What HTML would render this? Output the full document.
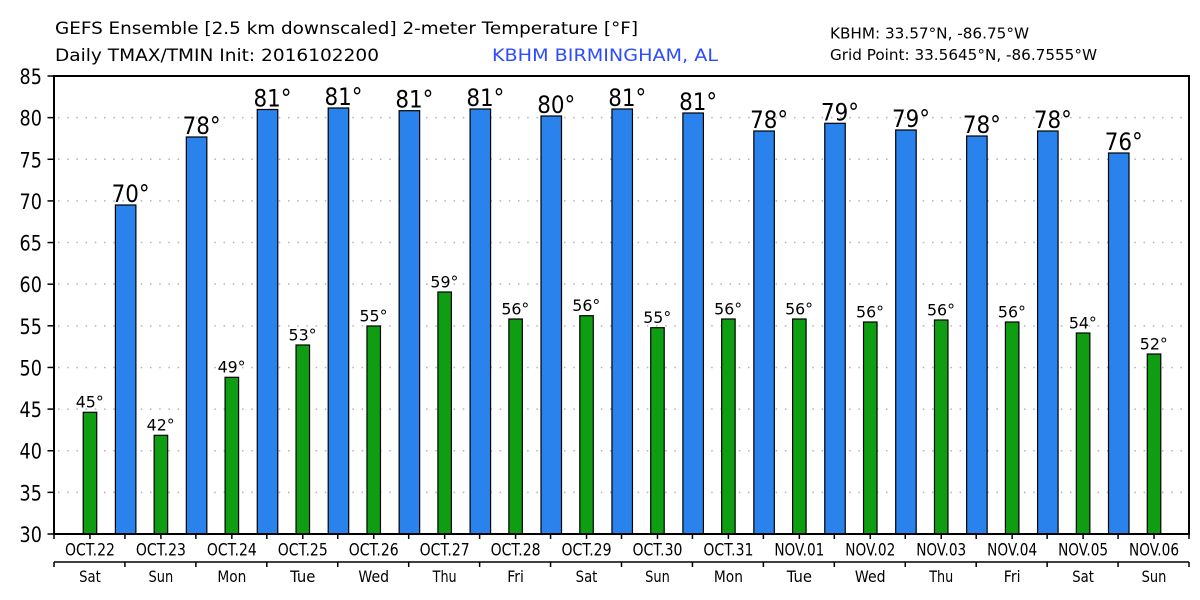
<!DOCTYPE html>
<html>
<head>
<meta charset="utf-8">
<style>
html,body{margin:0;padding:0;background:#fff;}
svg{display:block;}
text{font-family:"DejaVu Sans","Liberation Sans",sans-serif;fill:#000;}
</style>
</head>
<body>
<svg width="1200" height="600" viewBox="0 0 1200 600" xmlns="http://www.w3.org/2000/svg">
<rect width="1200" height="600" fill="#fff"/>

<!-- Header -->
<text x="55" y="34" font-size="17" textLength="583" lengthAdjust="spacingAndGlyphs">GEFS Ensemble [2.5 km downscaled] 2-meter Temperature [°F]</text>
<text x="55" y="61" font-size="17" textLength="324" lengthAdjust="spacingAndGlyphs">Daily TMAX/TMIN Init: 2016102200</text>
<text x="492" y="61" font-size="17" textLength="226" lengthAdjust="spacingAndGlyphs" style="fill:#2d4cff">KBHM BIRMINGHAM, AL</text>
<text x="830" y="38.5" font-size="15" textLength="199" lengthAdjust="spacingAndGlyphs">KBHM: 33.57°N, -86.75°W</text>
<text x="830" y="60" font-size="15" textLength="267" lengthAdjust="spacingAndGlyphs">Grid Point: 33.5645°N, -86.7555°W</text>

<!-- Gridlines -->
<g stroke="#b4b4b4" stroke-width="1.5" stroke-dasharray="1.5 7.7">
<line x1="58" x2="1189" y1="492.36" y2="492.36"/>
<line x1="58" x2="1189" y1="450.73" y2="450.73"/>
<line x1="58" x2="1189" y1="409.09" y2="409.09"/>
<line x1="58" x2="1189" y1="367.45" y2="367.45"/>
<line x1="58" x2="1189" y1="325.82" y2="325.82"/>
<line x1="58" x2="1189" y1="284.18" y2="284.18"/>
<line x1="58" x2="1189" y1="242.55" y2="242.55"/>
<line x1="58" x2="1189" y1="200.91" y2="200.91"/>
<line x1="58" x2="1189" y1="159.27" y2="159.27"/>
<line x1="58" x2="1189" y1="117.64" y2="117.64"/>
</g>

<!-- Blue bars (TMAX) -->
<g fill="#2a83ec" stroke="#000" stroke-width="1.2">
<rect x="115.39" y="205" width="20.5" height="329"/>
<rect x="186.33" y="137" width="20.5" height="397"/>
<rect x="257.26" y="109.5" width="20.5" height="424.5"/>
<rect x="328.2" y="108" width="20.5" height="426"/>
<rect x="399.14" y="110.7" width="20.5" height="423.3"/>
<rect x="470.08" y="109" width="20.5" height="425"/>
<rect x="541.01" y="116" width="20.5" height="418"/>
<rect x="611.95" y="109" width="20.5" height="425"/>
<rect x="682.89" y="113" width="20.5" height="421"/>
<rect x="753.83" y="131" width="20.5" height="403"/>
<rect x="824.76" y="123.3" width="20.5" height="410.7"/>
<rect x="895.7" y="130" width="20.5" height="404"/>
<rect x="966.64" y="136" width="20.5" height="398"/>
<rect x="1037.58" y="131" width="20.5" height="403"/>
<rect x="1108.51" y="153" width="20.5" height="381"/>
</g>

<!-- Green bars (TMIN) -->
<g fill="#0f9e12" stroke="#000" stroke-width="1.2">
<rect x="83.22" y="412.3" width="13.5" height="121.7"/>
<rect x="154.16" y="435.3" width="13.5" height="98.7"/>
<rect x="225.09" y="377.3" width="13.5" height="156.7"/>
<rect x="296.03" y="345" width="13.5" height="189"/>
<rect x="366.97" y="326" width="13.5" height="208"/>
<rect x="437.91" y="292" width="13.5" height="242"/>
<rect x="508.84" y="319" width="13.5" height="215"/>
<rect x="579.78" y="315.7" width="13.5" height="218.3"/>
<rect x="650.72" y="327.7" width="13.5" height="206.3"/>
<rect x="721.66" y="319" width="13.5" height="215"/>
<rect x="792.59" y="319" width="13.5" height="215"/>
<rect x="863.53" y="322" width="13.5" height="212"/>
<rect x="934.47" y="320" width="13.5" height="214"/>
<rect x="1005.41" y="322" width="13.5" height="212"/>
<rect x="1076.34" y="333" width="13.5" height="201"/>
<rect x="1147.28" y="354" width="13.5" height="180"/>
</g>

<!-- Blue labels -->
<g font-size="24">
<text x="111.64" y="202" textLength="38" lengthAdjust="spacingAndGlyphs">70°</text>
<text x="182.58" y="134" textLength="38" lengthAdjust="spacingAndGlyphs">78°</text>
<text x="253.51" y="106.5" textLength="38" lengthAdjust="spacingAndGlyphs">81°</text>
<text x="324.45" y="105" textLength="38" lengthAdjust="spacingAndGlyphs">81°</text>
<text x="395.39" y="107.7" textLength="38" lengthAdjust="spacingAndGlyphs">81°</text>
<text x="466.33" y="106" textLength="38" lengthAdjust="spacingAndGlyphs">81°</text>
<text x="537.26" y="113" textLength="38" lengthAdjust="spacingAndGlyphs">80°</text>
<text x="608.2" y="106" textLength="38" lengthAdjust="spacingAndGlyphs">81°</text>
<text x="679.14" y="110" textLength="38" lengthAdjust="spacingAndGlyphs">81°</text>
<text x="750.08" y="128" textLength="38" lengthAdjust="spacingAndGlyphs">78°</text>
<text x="821.01" y="120.3" textLength="38" lengthAdjust="spacingAndGlyphs">79°</text>
<text x="891.95" y="127" textLength="38" lengthAdjust="spacingAndGlyphs">79°</text>
<text x="962.89" y="133" textLength="38" lengthAdjust="spacingAndGlyphs">78°</text>
<text x="1033.83" y="128" textLength="38" lengthAdjust="spacingAndGlyphs">78°</text>
<text x="1104.76" y="150" textLength="38" lengthAdjust="spacingAndGlyphs">76°</text>
</g>

<!-- Green labels -->
<g font-size="16">
<text x="75.72" y="407.7" textLength="28" lengthAdjust="spacingAndGlyphs">45°</text>
<text x="146.66" y="430.7" textLength="28" lengthAdjust="spacingAndGlyphs">42°</text>
<text x="217.59" y="372.7" textLength="28" lengthAdjust="spacingAndGlyphs">49°</text>
<text x="288.53" y="340.4" textLength="28" lengthAdjust="spacingAndGlyphs">53°</text>
<text x="359.47" y="321.4" textLength="28" lengthAdjust="spacingAndGlyphs">55°</text>
<text x="430.41" y="287.4" textLength="28" lengthAdjust="spacingAndGlyphs">59°</text>
<text x="501.34" y="314.4" textLength="28" lengthAdjust="spacingAndGlyphs">56°</text>
<text x="572.28" y="311.1" textLength="28" lengthAdjust="spacingAndGlyphs">56°</text>
<text x="643.22" y="323.1" textLength="28" lengthAdjust="spacingAndGlyphs">55°</text>
<text x="714.16" y="314.4" textLength="28" lengthAdjust="spacingAndGlyphs">56°</text>
<text x="785.09" y="314.4" textLength="28" lengthAdjust="spacingAndGlyphs">56°</text>
<text x="856.03" y="317.4" textLength="28" lengthAdjust="spacingAndGlyphs">56°</text>
<text x="926.97" y="315.4" textLength="28" lengthAdjust="spacingAndGlyphs">56°</text>
<text x="997.91" y="317.4" textLength="28" lengthAdjust="spacingAndGlyphs">56°</text>
<text x="1068.84" y="328.4" textLength="28" lengthAdjust="spacingAndGlyphs">54°</text>
<text x="1139.78" y="349.4" textLength="28" lengthAdjust="spacingAndGlyphs">52°</text>
</g>

<!-- Frame -->
<rect x="54" y="76" width="1135" height="458" fill="none" stroke="#000" stroke-width="2"/>

<!-- Y ticks -->
<g stroke="#000" stroke-width="1.5">
<line x1="47.5" x2="54" y1="76" y2="76"/>
<line x1="47.5" x2="54" y1="117.64" y2="117.64"/>
<line x1="47.5" x2="54" y1="159.27" y2="159.27"/>
<line x1="47.5" x2="54" y1="200.91" y2="200.91"/>
<line x1="47.5" x2="54" y1="242.55" y2="242.55"/>
<line x1="47.5" x2="54" y1="284.18" y2="284.18"/>
<line x1="47.5" x2="54" y1="325.82" y2="325.82"/>
<line x1="47.5" x2="54" y1="367.45" y2="367.45"/>
<line x1="47.5" x2="54" y1="409.09" y2="409.09"/>
<line x1="47.5" x2="54" y1="450.73" y2="450.73"/>
<line x1="47.5" x2="54" y1="492.36" y2="492.36"/>
<line x1="47.5" x2="54" y1="534" y2="534"/>
</g>

<!-- Y labels -->
<g font-size="21">
<text x="19.5" y="84" textLength="22.4" lengthAdjust="spacingAndGlyphs">85</text>
<text x="19.5" y="125.6" textLength="22.4" lengthAdjust="spacingAndGlyphs">80</text>
<text x="19.5" y="167.3" textLength="22.4" lengthAdjust="spacingAndGlyphs">75</text>
<text x="19.5" y="208.9" textLength="22.4" lengthAdjust="spacingAndGlyphs">70</text>
<text x="19.5" y="250.5" textLength="22.4" lengthAdjust="spacingAndGlyphs">65</text>
<text x="19.5" y="292.2" textLength="22.4" lengthAdjust="spacingAndGlyphs">60</text>
<text x="19.5" y="333.8" textLength="22.4" lengthAdjust="spacingAndGlyphs">55</text>
<text x="19.5" y="375.5" textLength="22.4" lengthAdjust="spacingAndGlyphs">50</text>
<text x="19.5" y="417.1" textLength="22.4" lengthAdjust="spacingAndGlyphs">45</text>
<text x="19.5" y="458.7" textLength="22.4" lengthAdjust="spacingAndGlyphs">40</text>
<text x="19.5" y="500.4" textLength="22.4" lengthAdjust="spacingAndGlyphs">35</text>
<text x="19.5" y="542" textLength="22.4" lengthAdjust="spacingAndGlyphs">30</text>
</g>

<!-- X axis ticks (first axis, half-day) -->
<path stroke="#000" stroke-width="1.5" fill="none" d="M54 534V539 M89.97 534V539 M124.94 534V539 M160.91 534V539 M195.88 534V539 M231.84 534V539 M266.81 534V539 M302.78 534V539 M337.75 534V539 M373.72 534V539 M408.69 534V539 M444.66 534V539 M479.63 534V539 M515.59 534V539 M550.56 534V539 M586.53 534V539 M621.5 534V539 M657.47 534V539 M692.44 534V539 M728.41 534V539 M763.38 534V539 M799.34 534V539 M834.31 534V539 M870.28 534V539 M905.25 534V539 M941.22 534V539 M976.19 534V539 M1012.16 534V539 M1047.13 534V539 M1083.09 534V539 M1118.06 534V539 M1154.03 534V539 M1189 534V539"/>

<!-- Second axis line -->
<line x1="54" x2="1189" y1="562" y2="562" stroke="#000" stroke-width="1.5"/>
<path stroke="#000" stroke-width="1.5" fill="none" d="M54 562V567 M124.94 562V567 M195.88 562V567 M266.81 562V567 M337.75 562V567 M408.69 562V567 M479.63 562V567 M550.56 562V567 M621.5 562V567 M692.44 562V567 M763.38 562V567 M834.31 562V567 M905.25 562V567 M976.19 562V567 M1047.13 562V567 M1118.06 562V567 M1189 562V567"/>

<!-- Date labels -->
<g font-size="17">
<text x="64.97" y="555.5" textLength="50" lengthAdjust="spacingAndGlyphs">OCT.22</text>
<text x="135.91" y="555.5" textLength="50" lengthAdjust="spacingAndGlyphs">OCT.23</text>
<text x="206.84" y="555.5" textLength="50" lengthAdjust="spacingAndGlyphs">OCT.24</text>
<text x="277.78" y="555.5" textLength="50" lengthAdjust="spacingAndGlyphs">OCT.25</text>
<text x="348.72" y="555.5" textLength="50" lengthAdjust="spacingAndGlyphs">OCT.26</text>
<text x="419.66" y="555.5" textLength="50" lengthAdjust="spacingAndGlyphs">OCT.27</text>
<text x="490.59" y="555.5" textLength="50" lengthAdjust="spacingAndGlyphs">OCT.28</text>
<text x="561.53" y="555.5" textLength="50" lengthAdjust="spacingAndGlyphs">OCT.29</text>
<text x="632.47" y="555.5" textLength="50" lengthAdjust="spacingAndGlyphs">OCT.30</text>
<text x="703.41" y="555.5" textLength="50" lengthAdjust="spacingAndGlyphs">OCT.31</text>
<text x="774.34" y="555.5" textLength="50" lengthAdjust="spacingAndGlyphs">NOV.01</text>
<text x="845.28" y="555.5" textLength="50" lengthAdjust="spacingAndGlyphs">NOV.02</text>
<text x="916.22" y="555.5" textLength="50" lengthAdjust="spacingAndGlyphs">NOV.03</text>
<text x="987.16" y="555.5" textLength="50" lengthAdjust="spacingAndGlyphs">NOV.04</text>
<text x="1058.09" y="555.5" textLength="50" lengthAdjust="spacingAndGlyphs">NOV.05</text>
<text x="1129.03" y="555.5" textLength="50" lengthAdjust="spacingAndGlyphs">NOV.06</text>
</g>

<!-- Weekday labels -->
<g font-size="16">
<text x="79.12" y="582" textLength="21.7" lengthAdjust="spacingAndGlyphs">Sat</text>
<text x="148.56" y="582" textLength="24.7" lengthAdjust="spacingAndGlyphs">Sun</text>
<text x="217.34" y="582" textLength="29" lengthAdjust="spacingAndGlyphs">Mon</text>
<text x="290.13" y="582" textLength="25.3" lengthAdjust="spacingAndGlyphs">Tue</text>
<text x="358.37" y="582" textLength="30.7" lengthAdjust="spacingAndGlyphs">Wed</text>
<text x="432.66" y="582" textLength="24" lengthAdjust="spacingAndGlyphs">Thu</text>
<text x="507.24" y="582" textLength="16.7" lengthAdjust="spacingAndGlyphs">Fri</text>
<text x="575.68" y="582" textLength="21.7" lengthAdjust="spacingAndGlyphs">Sat</text>
<text x="645.12" y="582" textLength="24.7" lengthAdjust="spacingAndGlyphs">Sun</text>
<text x="713.91" y="582" textLength="29" lengthAdjust="spacingAndGlyphs">Mon</text>
<text x="786.69" y="582" textLength="25.3" lengthAdjust="spacingAndGlyphs">Tue</text>
<text x="854.93" y="582" textLength="30.7" lengthAdjust="spacingAndGlyphs">Wed</text>
<text x="929.22" y="582" textLength="24" lengthAdjust="spacingAndGlyphs">Thu</text>
<text x="1003.81" y="582" textLength="16.7" lengthAdjust="spacingAndGlyphs">Fri</text>
<text x="1072.24" y="582" textLength="21.7" lengthAdjust="spacingAndGlyphs">Sat</text>
<text x="1141.68" y="582" textLength="24.7" lengthAdjust="spacingAndGlyphs">Sun</text>
</g>
</svg>
</body>
</html>
